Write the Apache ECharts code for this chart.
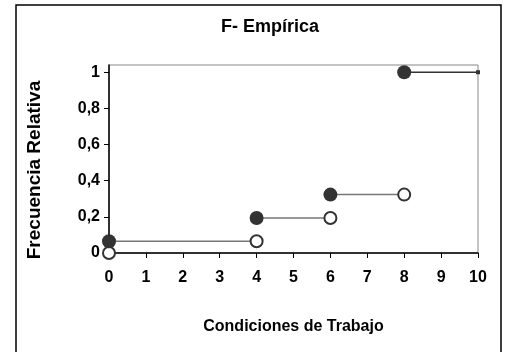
<!DOCTYPE html>
<html>
<head>
<meta charset="utf-8">
<script src="https://cdn.jsdelivr.net/npm/echarts@6/dist/echarts.min.js"></script>
<style>html,body{margin:0;padding:0;background:#fff}#c{width:511px;height:352px}</style>
</head>
<body>
<div id="c"></div>
<script>
// Step points of the empirical distribution function
const stepX = [0, 4, 6, 8];            // jump locations
const valueAfter = [0.065, 0.194, 0.323, 1.0];   // F(x) at and right of the jump (filled dots)
const valueBefore = [0, 0.065, 0.194, 0.323];    // F(x) just left of the jump (open dots)
const xEnd = 10;
const yTicks = [0, 0.2, 0.4, 0.6, 0.8, 1];
const title = 'F- Empírica';
const xName = 'Condiciones de Trabajo';
const yName = 'Frecuencia Relativa';

const segData = [];
for (let i = 0; i < stepX.length - 1; i++) {
  segData.push([stepX[i], valueAfter[i]], [stepX[i + 1], valueAfter[i]], '-');
}
const lastSeg = [[stepX[stepX.length - 1], valueAfter[valueAfter.length - 1]], [xEnd, valueAfter[valueAfter.length - 1]]];
const filled = stepX.map((x, i) => [x, valueAfter[i]]);
const open = stepX.map((x, i) => [x, valueBefore[i]]);

const font = 'Liberation Sans, Arial, sans-serif';
const chart = echarts.init(document.getElementById('c'), null, {renderer: 'canvas'});
chart.setOption({
  animation: false,
  backgroundColor: '#fff',
  title: {
    text: title, left: 265, top: 13, textAlign: 'center',
    textStyle: {fontFamily: font, fontWeight: 'bold', fontSize: 18, color: '#000'}
  },
  graphic: [{
    type: 'rect', shape: {x: 16, y: 5, width: 485, height: 370},
    style: {fill: 'none', stroke: '#000', lineWidth: 1.5}, silent: true
  }, {
    type: 'text', x: 35, y: 170,
    rotation: Math.PI / 2,
    style: {text: yName, font: 'bold 19px ' + font, fill: '#000', align: 'center', verticalAlign: 'middle'}
  }],
  grid: {left: 109, right: 33, top: 65, bottom: 99, show: true, borderColor: '#888', borderWidth: 1},
  xAxis: {
    type: 'value', min: 0, max: 10, interval: 1,
    name: xName, nameLocation: 'middle', nameGap: 66,
    nameTextStyle: {fontFamily: font, fontWeight: 'bold', fontSize: 16, color: '#000'},
    axisLine: {lineStyle: {color: '#000', width: 1.5}},
    axisTick: {show: true, length: 5, lineStyle: {color: '#000'}},
    axisLabel: {fontFamily: font, fontWeight: 'bold', fontSize: 16, color: '#000', margin: 17},
    splitLine: {show: false}
  },
  yAxis: {
    type: 'value', min: 0, max: 1.04,
    axisLine: {show: true, lineStyle: {color: '#000', width: 1.5}},
    axisTick: {show: true, length: 5, customValues: yTicks, lineStyle: {color: '#000'}},
    axisLabel: {customValues: yTicks, fontFamily: font, fontWeight: 'bold', fontSize: 16, color: '#000', margin: 9,
      formatter: v => String(v).replace('.', ',')},
    splitLine: {show: false}
  },
  series: [{
    type: 'line', data: segData, showSymbol: false, connectNulls: false,
    lineStyle: {color: '#777', width: 1.5}, z: 2
  }, {
    type: 'line', data: lastSeg, symbol: ['none', 'rect'], symbolSize: 4, showSymbol: true,
    itemStyle: {color: '#333'},
    lineStyle: {color: '#333', width: 1.5}, z: 2
  }, {
    type: 'scatter', data: open, symbol: 'circle', symbolSize: 12,
    itemStyle: {color: '#fff', borderColor: '#333', borderWidth: 2, opacity: 1}, z: 3
  }, {
    type: 'scatter', data: filled, symbol: 'circle', symbolSize: 14,
    itemStyle: {color: '#333', opacity: 1}, z: 4
  }]
});
</script>
</body>
</html>
